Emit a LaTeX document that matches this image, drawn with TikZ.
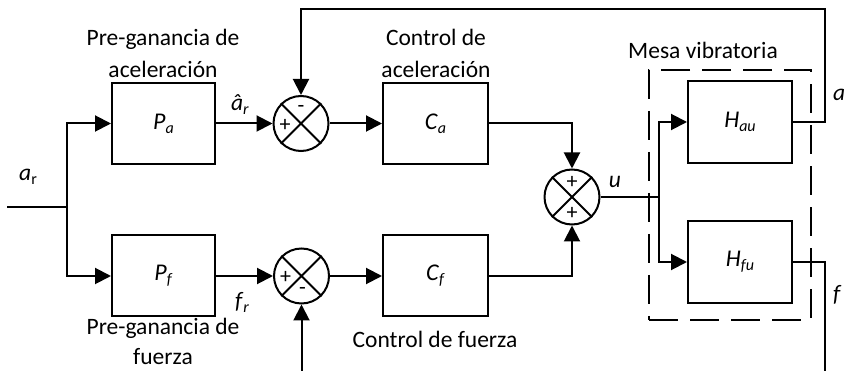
\documentclass[tikz,border=0pt]{standalone}
\usepackage{fontspec}
\setmainfont{Carlito}
\usetikzlibrary{arrows.meta}
\newcommand\sbx[2]{\textit{#1}\raisebox{-0.35ex}{\fontsize{16}{16}\selectfont\textit{#2}}}
\begin{document}
\begin{tikzpicture}[x=1pt,y=-1pt,
  wire/.style={line width=2pt},
  arr/.style={wire,-{Triangle[length=16pt,width=16pt]}},
  blk/.style={draw,line width=2pt,minimum width=103pt,minimum height=81pt,inner sep=0pt,font=\fontsize{24}{28}\selectfont},
  sumc/.style={draw,circle,line width=2pt,minimum size=55pt,inner sep=0pt},
  lbl/.style={font=\fontsize{23.5}{32}\selectfont,align=center,inner sep=0pt},
  sig/.style={font=\fontsize{22}{22}\selectfont,inner sep=0pt},
  mesa/.style={draw,line width=2pt,dash pattern=on 29pt off 12pt,inner sep=0pt}]
\useasboundingbox (0,0) rectangle (849,371);
% blocks
\node[blk] (Pa) at (163.5,123.5) {\sbx{P}{a}};
\node[blk,minimum width=105pt] (Ca) at (435.5,123.5) {\sbx{C}{a}};
\node[blk] (Pf) at (163.5,276) {\sbx{P}{f}};
\node[blk,minimum width=105pt] (Cf) at (435.5,276) {\sbx{C}{f}};
\node[blk,minimum width=104pt,minimum height=82pt] (Hau) at (740,122) {\sbx{H}{au}};
\node[blk,minimum width=104pt,minimum height=82pt] (Hfu) at (740,262) {\sbx{H}{fu}};
% summing junctions
\node[sumc] (s1) at (301,123.5) {};
\node[sumc] (s3) at (301.5,276) {};
\node[sumc] (s2) at (572,197) {};
\foreach \s in {s1,s2,s3}{
  \draw[wire] (\s.north east) -- (\s.south west) (\s.north west) -- (\s.south east);}
\node[sig] at ([shift={(-16,2)}]s1.center) {+};
\node[sig] at ([shift={(0,-15)}]s1.center) {-};
\node[sig] at ([shift={(-16,1)}]s3.center) {+};
\node[sig] at ([shift={(1,15)}]s3.center) {-};
\node[sig] at ([shift={(0,-15)}]s2.center) {+};
\node[sig] at ([shift={(0,16)}]s2.center) {+};
% dashed plant box
\node[mesa,minimum width=162pt,minimum height=250pt] (mesa) at (730,195) {};
% coordinates
\coordinate (in) at (7,207);
\coordinate (split) at (67,207);
\coordinate (br) at (659,197);
\coordinate (ta) at (825,9.5);
\coordinate (fend) at (825,371);
\coordinate (fbot) at (301.5,371);
% connectors
\draw[wire] (in) -- (split);
\draw[arr] (split) |- (Pa.west);
\draw[arr] (split) |- (Pf.west);
\draw[arr] (Pa.east) -- (s1.west);
\draw[arr] (s1.east) -- (Ca.west);
\draw[arr] (Pf.east) -- (s3.west);
\draw[arr] (s3.east) -- (Cf.west);
\draw[arr] (Ca.east) -| (s2.north);
\draw[arr] (Cf.east) -| (s2.south);
\draw[wire] (s2.east) -- (br);
\draw[arr] (br) |- (Hau.west);
\draw[arr] (br) |- (Hfu.west);
\draw[arr] (Hau.east) -| (ta) -| (s1.north);
\draw[wire] (Hfu.east) -| (fend);
\draw[arr] (fbot) -- (s3.south);
% labels
\node[lbl] (lPa) at (163,53) {Pre-ganancia de\\aceleración};
\node[lbl] (lCa) at (436,53) {Control de\\aceleración};
\node[lbl,font=\fontsize{23.5}{30}\selectfont] (lPf) at (163,341) {Pre-ganancia de\\fuerza};
\node[lbl] (lCf) at (435,339) {Control de fuerza};
\node[lbl] (lM) at (703,50) {Mesa vibratoria};
\node[lbl] (lar) at (28,177) {\textit{a}\raisebox{-0.35ex}{\fontsize{16}{16}\selectfont r}};
\node[lbl] (lah) at (240,105) {\sbx{â}{r}};
\node[lbl] (lfr) at (242,302) {\sbx{f}{r}};
\node[lbl] (lu) at (615,182) {\textit{u}};
\node[lbl,anchor=west] (la) at (833,95) {\textit{a}};
\node[lbl,anchor=west] (lf) at (833,295) {\textit{f}};
\end{tikzpicture}
\end{document}
